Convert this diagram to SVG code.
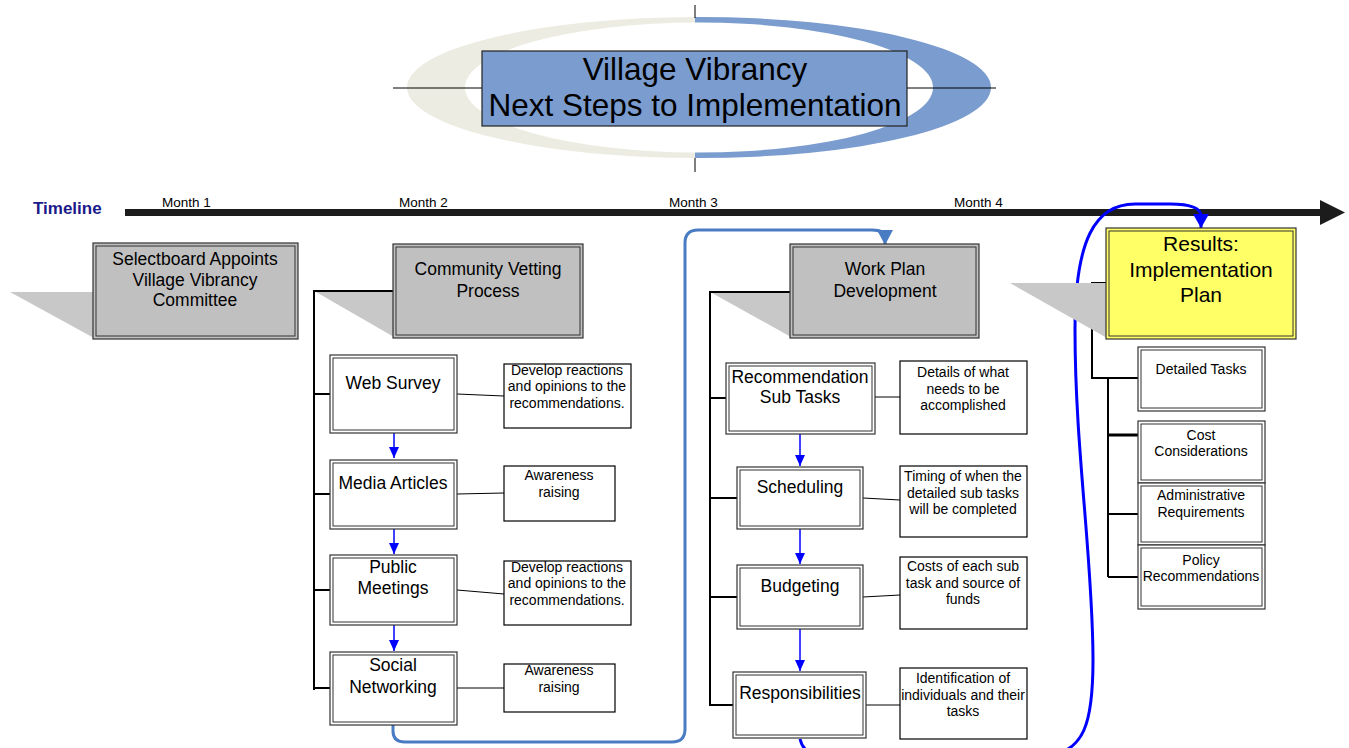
<svg xmlns="http://www.w3.org/2000/svg" width="1349" height="748" viewBox="0 0 1349 748">
<style>
text{font-family:"Liberation Sans",Arial,sans-serif;fill:#000}
.big{font-size:17.5px;text-anchor:middle}
.sm{font-size:14px;text-anchor:middle}
.mo{font-size:13.5px}
.o{stroke:#333;stroke-width:1.2}
.i{fill:none;stroke:#333;stroke-width:1}
.grey{fill:#c0c0c0}
.white{fill:#fff}
.yellow{fill:#ffff66}
.shadow{fill:#c8c8c8}
.tree{fill:none;stroke:#000;stroke-width:2}
.link{fill:none;stroke:#000;stroke-width:1}
.cbox{fill:#fff;stroke:#000;stroke-width:1.2}
.barrow{fill:none;stroke:#0000ff;stroke-width:1.5}
</style>
<defs>
<clipPath id="cl"><rect x="0" y="0" width="695" height="748"/></clipPath>
<clipPath id="cr"><rect x="695" y="0" width="654" height="748"/></clipPath>
<marker id="bh" markerUnits="userSpaceOnUse" markerWidth="12" markerHeight="12" refX="11" refY="5" orient="auto"><path d="M0,0 L11,5 L0,10 Z" fill="#0000ff"/></marker>
<marker id="sh" markerUnits="userSpaceOnUse" markerWidth="16" markerHeight="18" refX="15" refY="8" orient="auto"><path d="M0,0 L15,8 L0,16 Z" fill="#4a7cc4"/></marker>
<marker id="bh2" markerUnits="userSpaceOnUse" markerWidth="16" markerHeight="18" refX="14" refY="8" orient="auto"><path d="M0,0 L14,8 L0,16 Z" fill="#0000ff"/></marker>
</defs>

<g id="title">
<path d="M407,87.5 a292,70.5 0 1,0 584,0 a292,70.5 0 1,0 -584,0 Z M465,87.5 a234,65 0 1,0 468,0 a234,65 0 1,0 -468,0 Z" fill="#ececE2" fill-rule="evenodd" clip-path="url(#cl)"/>
<path d="M407,87.5 a292,70.5 0 1,0 584,0 a292,70.5 0 1,0 -584,0 Z M465,87.5 a234,65 0 1,0 468,0 a234,65 0 1,0 -468,0 Z" fill="#7b9cce" fill-rule="evenodd" clip-path="url(#cr)"/>
<path d="M695,5 V18 M695,158 V172 M393,88 H482 M907,88 H996" stroke="#000" stroke-width="1"/>
<rect x="482" y="51" width="425" height="75" fill="#7b9cce" stroke="#222" stroke-width="1.2"/>
<text x="695" y="80" style="font-size:31.5px;text-anchor:middle">Village Vibrancy</text>
<text x="695" y="116" style="font-size:31.5px;text-anchor:middle">Next Steps to Implementation</text>
</g>

<g id="timeline">
<text x="33" y="214" style="font-size:17px;font-weight:bold;fill:#1a1a8a">Timeline</text>
<rect x="125" y="209" width="1197" height="7" fill="#1c1c1c"/>
<path d="M1320,200 L1345,212.5 L1320,225 Z" fill="#1c1c1c"/>
<text x="162" y="207" class="mo">Month 1</text>
<text x="399" y="207" class="mo">Month 2</text>
<text x="669" y="207" class="mo">Month 3</text>
<text x="954" y="207" class="mo">Month 4</text>
</g>

<g id="connectors">
<path class="tree" d="M393,291 H314 V690"/>
<path class="tree" d="M314,394 H330 M314,494 H330 M314,590 H330 M314,688 H330"/>
<path class="link" d="M457,394 L504,396 M457,494 L504,493 M457,590 L504,594 M457,688 H504"/>
<path class="barrow" d="M394,433 V458" marker-end="url(#bh)"/>
<path class="barrow" d="M394,529 V554" marker-end="url(#bh)"/>
<path class="barrow" d="M394,625 V651" marker-end="url(#bh)"/>
<path class="tree" d="M790,292 H710 V706"/>
<path class="tree" d="M710,398 H726 M710,498 H737 M710,597 H737 M710,705 H733"/>
<path class="link" d="M875,397 L900,397 M863,498 L900,500 M863,597 L900,595 M866,705 H900"/>
<path class="barrow" d="M800,434 V466" marker-end="url(#bh)"/>
<path class="barrow" d="M800,529 V564" marker-end="url(#bh)"/>
<path class="barrow" d="M800,629 V671" marker-end="url(#bh)"/>
<path class="tree" d="M1106,283 H1092 V378 H1138 M1108,378 V577 M1108,514 H1138 M1108,577 H1138"/>
<path d="M1108,435 H1138" stroke="#000" stroke-width="3"/>
<path d="M393,725 V731 Q393,742 405,742 H672 Q685,742 685,729 V243 Q685,230 698,230 H872 Q885,230 885,238 V245" fill="none" stroke="#4a7cc4" stroke-width="3" marker-end="url(#sh)"/>
<path d="M800,739 C803,752 812,756 832,756 H1040 C1086,756 1093,720 1093,660 C1093,560 1075,450 1075,330 C1075,240 1095,204 1135,204 H1170 C1192,204 1201,209 1201,216 V228" fill="none" stroke="#0000ff" stroke-width="3" marker-end="url(#bh2)"/>
</g>

<g id="selectboard">
<path class="shadow" d="M10,292 H94 V338 Z"/>
<rect class="grey o" x="93" y="243" width="205" height="96"/>
<rect class="i" x="96" y="246" width="199" height="90"/>
<text class="big" x="195" y="265">Selectboard Appoints</text>
<text class="big" x="195" y="286">Village Vibrancy</text>
<text class="big" x="195" y="306">Committee</text>
</g>

<g id="vetting">
<path class="shadow" d="M316,292 H394 V337 Z"/>
<rect class="grey o" x="393" y="244" width="190" height="94"/>
<rect class="i" x="396" y="247" width="184" height="88"/>
<text class="big" x="488" y="275">Community Vetting</text>
<text class="big" x="488" y="297">Process</text>
</g>

<g id="workplan">
<path class="shadow" d="M712,293 H791 V337 Z"/>
<rect class="grey o" x="790" y="244" width="189" height="94"/>
<rect class="i" x="793" y="247" width="183" height="88"/>
<text class="big" x="885" y="275">Work Plan</text>
<text class="big" x="885" y="297">Development</text>
</g>

<g id="results">
<path class="shadow" d="M1010,283 H1107 V338 Z"/>
<rect class="yellow o" x="1106" y="228" width="190" height="111"/>
<rect class="i" x="1109" y="231" width="184" height="105"/>
<text x="1201" y="251" style="font-size:21px;text-anchor:middle">Results:</text>
<text x="1201" y="277" style="font-size:21px;text-anchor:middle">Implementation</text>
<text x="1201" y="302" style="font-size:21px;text-anchor:middle">Plan</text>
</g>

<g id="websurvey">
<rect class="white o" x="330" y="355" width="127" height="78"/>
<rect class="i" x="333" y="358" width="121" height="72"/>
<text class="big" x="393" y="389">Web Survey</text>
</g>
<g id="media">
<rect class="white o" x="330" y="460" width="127" height="69"/>
<rect class="i" x="333" y="463" width="121" height="63"/>
<text class="big" x="393" y="489">Media Articles</text>
</g>
<g id="public">
<rect class="white o" x="330" y="555" width="127" height="70"/>
<rect class="i" x="333" y="558" width="121" height="64"/>
<text class="big" x="393" y="573">Public</text>
<text class="big" x="393" y="594">Meetings</text>
</g>
<g id="social">
<rect class="white o" x="330" y="652" width="127" height="73"/>
<rect class="i" x="333" y="655" width="121" height="67"/>
<text class="big" x="393" y="671">Social</text>
<text class="big" x="393" y="693">Networking</text>
</g>

<g id="c-web">
<rect class="cbox" x="504" y="364" width="127" height="64"/>
<text class="sm" x="567" y="375">Develop reactions</text>
<text class="sm" x="567" y="391">and opinions to the</text>
<text class="sm" x="567" y="408">recommendations.</text>
</g>
<g id="c-media">
<rect class="cbox" x="504" y="466" width="111" height="55"/>
<text class="sm" x="559" y="480">Awareness</text>
<text class="sm" x="559" y="497">raising</text>
</g>
<g id="c-public">
<rect class="cbox" x="504" y="561" width="127" height="64"/>
<text class="sm" x="567" y="572">Develop reactions</text>
<text class="sm" x="567" y="588">and opinions to the</text>
<text class="sm" x="567" y="605">recommendations.</text>
</g>
<g id="c-social">
<rect class="cbox" x="504" y="664" width="111" height="48"/>
<text class="sm" x="559" y="675">Awareness</text>
<text class="sm" x="559" y="692">raising</text>
</g>

<g id="recsub">
<rect class="white o" x="726" y="363" width="149" height="71"/>
<rect class="i" x="729" y="366" width="143" height="65"/>
<text class="big" x="800" y="383">Recommendation</text>
<text class="big" x="800" y="403">Sub Tasks</text>
</g>
<g id="scheduling">
<rect class="white o" x="737" y="467" width="126" height="62"/>
<rect class="i" x="740" y="470" width="120" height="56"/>
<text class="big" x="800" y="493">Scheduling</text>
</g>
<g id="budgeting">
<rect class="white o" x="737" y="565" width="126" height="64"/>
<rect class="i" x="740" y="568" width="120" height="58"/>
<text class="big" x="800" y="592">Budgeting</text>
</g>
<g id="responsibilities">
<rect class="white o" x="733" y="672" width="133" height="66"/>
<rect class="i" x="736" y="675" width="127" height="60"/>
<text class="big" x="800" y="699">Responsibilities</text>
</g>

<g id="c-rec">
<rect class="cbox" x="900" y="361" width="127" height="73"/>
<text class="sm" x="963" y="377">Details of what</text>
<text class="sm" x="963" y="394">needs to be</text>
<text class="sm" x="963" y="410">accomplished</text>
</g>
<g id="c-sched">
<rect class="cbox" x="900" y="466" width="127" height="71"/>
<text class="sm" x="963" y="481">Timing of when the</text>
<text class="sm" x="963" y="498">detailed sub tasks</text>
<text class="sm" x="963" y="514">will be completed</text>
</g>
<g id="c-budget">
<rect class="cbox" x="900" y="557" width="127" height="72"/>
<text class="sm" x="963" y="571">Costs of each sub</text>
<text class="sm" x="963" y="588">task and source of</text>
<text class="sm" x="963" y="604">funds</text>
</g>
<g id="c-resp">
<rect class="cbox" x="900" y="668" width="127" height="71"/>
<text class="sm" x="963" y="683">Identification of</text>
<text class="sm" x="963" y="700">individuals and their</text>
<text class="sm" x="963" y="716">tasks</text>
</g>

<g id="detailed">
<rect class="white o" x="1138" y="347" width="127" height="64"/>
<rect class="i" x="1141" y="350" width="121" height="58"/>
<text class="sm" x="1201" y="374">Detailed Tasks</text>
</g>
<g id="cost">
<rect class="white o" x="1138" y="421" width="127" height="62"/>
<rect class="i" x="1141" y="424" width="121" height="56"/>
<text class="sm" x="1201" y="440">Cost</text>
<text class="sm" x="1201" y="456">Considerations</text>
</g>
<g id="admin">
<rect class="white o" x="1138" y="483" width="127" height="62"/>
<rect class="i" x="1141" y="486" width="121" height="56"/>
<text class="sm" x="1201" y="500">Administrative</text>
<text class="sm" x="1201" y="517">Requirements</text>
</g>
<g id="policy">
<rect class="white o" x="1138" y="545" width="127" height="64"/>
<rect class="i" x="1141" y="548" width="121" height="58"/>
<text class="sm" x="1201" y="565">Policy</text>
<text class="sm" x="1201" y="581">Recommendations</text>
</g>
</svg>
